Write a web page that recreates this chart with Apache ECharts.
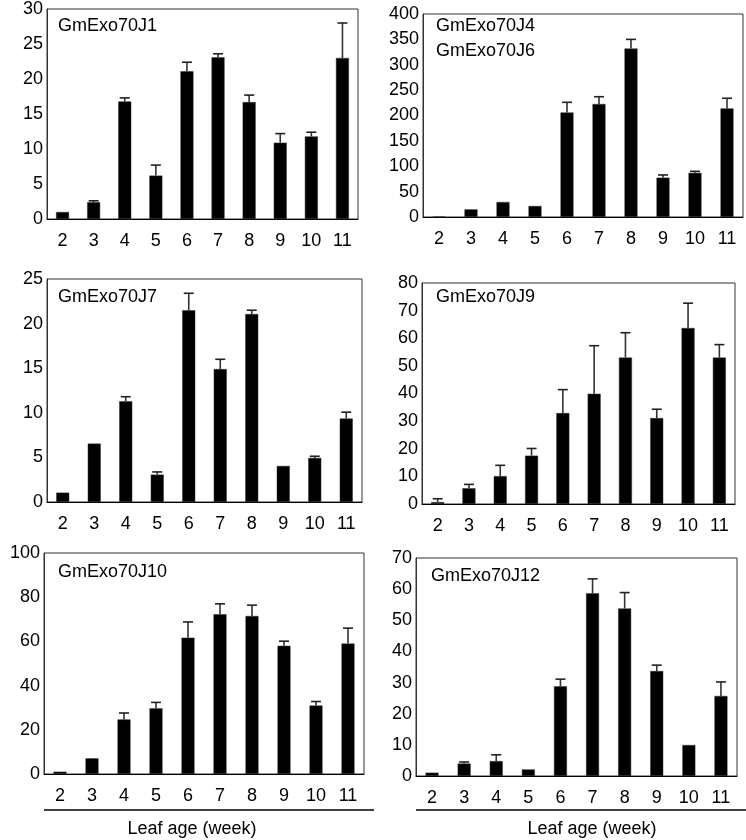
<!DOCTYPE html>
<html>
<head>
<meta charset="utf-8">
<script src="https://cdn.jsdelivr.net/npm/echarts@6/dist/echarts.min.js"></script>
<style>
  html, body { margin: 0; padding: 0; background: #fff; }
  #chart { width: 746px; height: 840px; }
</style>
</head>
<body>
<div id="chart"></div>
<script>
// ---- data ----
const weeks = ['2', '3', '4', '5', '6', '7', '8', '9', '10', '11'];

const j1Mean  = [1.0, 2.4, 16.8, 6.2, 21.1, 23.1, 16.7, 10.9, 11.8, 23.0];
const j1Upper = [1.0, 2.6, 17.3, 7.7, 22.4, 23.6, 17.7, 12.2, 12.4, 28.0];

const j4Mean  = [1, 15, 29.5, 21.7, 206, 222.7, 332, 77.5, 87, 214];
const j4Upper = [1, 16, 31, 23, 226, 237, 350, 82.8, 90, 234];

const j7Mean  = [1.05, 6.55, 11.3, 3.07, 21.5, 14.9, 21.07, 4.04, 4.94, 9.36];
const j7Upper = [1.05, 6.6, 11.8, 3.37, 23.4, 16.0, 21.5, 4.15, 5.13, 10.07];

const j9Mean  = [0.7, 5.7, 10.1, 17.5, 32.9, 39.9, 53.0, 31.1, 63.7, 53.0];
const j9Upper = [1.9, 7.1, 14.0, 20.1, 41.4, 57.3, 62.0, 34.3, 72.7, 57.7];

const j10Mean  = [1.05, 7.1, 24.7, 29.7, 61.7, 72.3, 71.5, 58.0, 31.0, 59.0];
const j10Upper = [1.05, 7.1, 27.6, 32.4, 68.8, 77.0, 76.4, 60.1, 32.8, 66.0];

const j12Mean  = [1.07, 4.0, 4.8, 2.1, 28.8, 58.7, 53.8, 33.7, 9.95, 25.7];
const j12Upper = [1.07, 4.5, 6.8, 2.1, 31.1, 63.3, 58.9, 35.6, 9.95, 30.2];

const panelNames = [['GmExo70J1'], ['GmExo70J4', 'GmExo70J6'], ['GmExo70J7'], ['GmExo70J9'], ['GmExo70J10'], ['GmExo70J12']];
const axisMax = [30, 400, 25, 80, 100, 70];
const axisStep = [5, 50, 5, 10, 20, 10];
const xTitle = 'Leaf age (week)';

const means = [j1Mean, j4Mean, j7Mean, j9Mean, j10Mean, j12Mean];
const uppers = [j1Upper, j4Upper, j7Upper, j9Upper, j10Upper, j12Upper];

// ---- layout ----
const FONT = '"Liberation Sans", Arial, Helvetica, sans-serif';
const grids = [
  { left: 47,  top: 7,   width: 311, height: 212 },
  { left: 423, top: 14,  width: 320, height: 203 },
  { left: 47,  top: 279, width: 315, height: 223 },
  { left: 422, top: 283, width: 313, height: 221 },
  { left: 44,  top: 553, width: 320, height: 221 },
  { left: 416, top: 558, width: 321, height: 218 }
];

const option = {
  animation: false,
  backgroundColor: '#fff',
  grid: grids.map(g => Object.assign({ show: true, borderColor: '#333', borderWidth: 1, containLabel: false }, g)),
  xAxis: grids.map((g, i) => ({
    type: 'category', gridIndex: i, data: weeks,
    axisLine: { lineStyle: { color: '#000', width: 1 } },
    axisTick: { show: false },
    axisLabel: { color: '#000', fontSize: 18, fontFamily: FONT, margin: 13, interval: 0 }
  })),
  yAxis: grids.map((g, i) => ({
    type: 'value', gridIndex: i, min: 0, max: axisMax[i], interval: axisStep[i],
    splitLine: { show: false },
    axisLine: { show: true, lineStyle: { color: '#333', width: 1 } },
    axisTick: { show: false },
    axisLabel: { color: '#000', fontSize: 18, fontFamily: FONT, margin: 4 }
  })),
  series: [],
  graphic: []
};

means.forEach((m, i) => {
  option.series.push({
    type: 'bar', xAxisIndex: i, yAxisIndex: i, data: m,
    barWidth: 13,
    itemStyle: { color: '#000', borderColor: '#333', borderWidth: 0.5 },
    z: 2
  });
  option.series.push({
    type: 'custom', xAxisIndex: i, yAxisIndex: i, z: 3,
    data: m.map((v, k) => [k, v, uppers[i][k]]),
    encode: { x: 0, y: 2 },
    renderItem: function (params, api) {
      const x = api.value(0);
      const base = api.coord([x, api.value(1)]);
      const top = api.coord([x, api.value(2)]);
      if (base[1] - top[1] < 1) return { type: 'group', children: [] };
      return {
        type: 'group',
        children: [
          { type: 'line', shape: { x1: top[0], y1: base[1], x2: top[0], y2: top[1] },
            style: { stroke: '#333', lineWidth: 1.6 } },
          { type: 'line', shape: { x1: top[0] - 5, y1: top[1], x2: top[0] + 5, y2: top[1] },
            style: { stroke: '#222', lineWidth: 1.6 } }
        ]
      };
    }
  });
});

// panel labels
const labelPos = [[58, 27], [436, 27], [58, 298], [436, 298], [58, 573], [431, 577]];
panelNames.forEach((names, i) => {
  names.forEach((n, k) => {
    option.graphic.push({
      type: 'text', left: labelPos[i][0], top: labelPos[i][1] - 10 + k * 25,
      style: { text: n, fill: '#000', font: '18px ' + FONT }
    });
  });
});

// separator lines and x titles
option.graphic.push({ type: 'line', shape: { x1: 44, y1: 810, x2: 374, y2: 810 }, style: { stroke: '#000', lineWidth: 1.5 } });
option.graphic.push({ type: 'line', shape: { x1: 416, y1: 810, x2: 746, y2: 810 }, style: { stroke: '#000', lineWidth: 1.5 } });
option.graphic.push({ type: 'text', x: 192, y: 829, style: { text: xTitle, fill: '#000', font: '18px ' + FONT, textAlign: 'center', textVerticalAlign: 'middle' } });
option.graphic.push({ type: 'text', x: 592, y: 829, style: { text: xTitle, fill: '#000', font: '18px ' + FONT, textAlign: 'center', textVerticalAlign: 'middle' } });

const chart = echarts.init(document.getElementById('chart'), null, { renderer: 'canvas' });
chart.setOption(option);
</script>
</body>
</html>
